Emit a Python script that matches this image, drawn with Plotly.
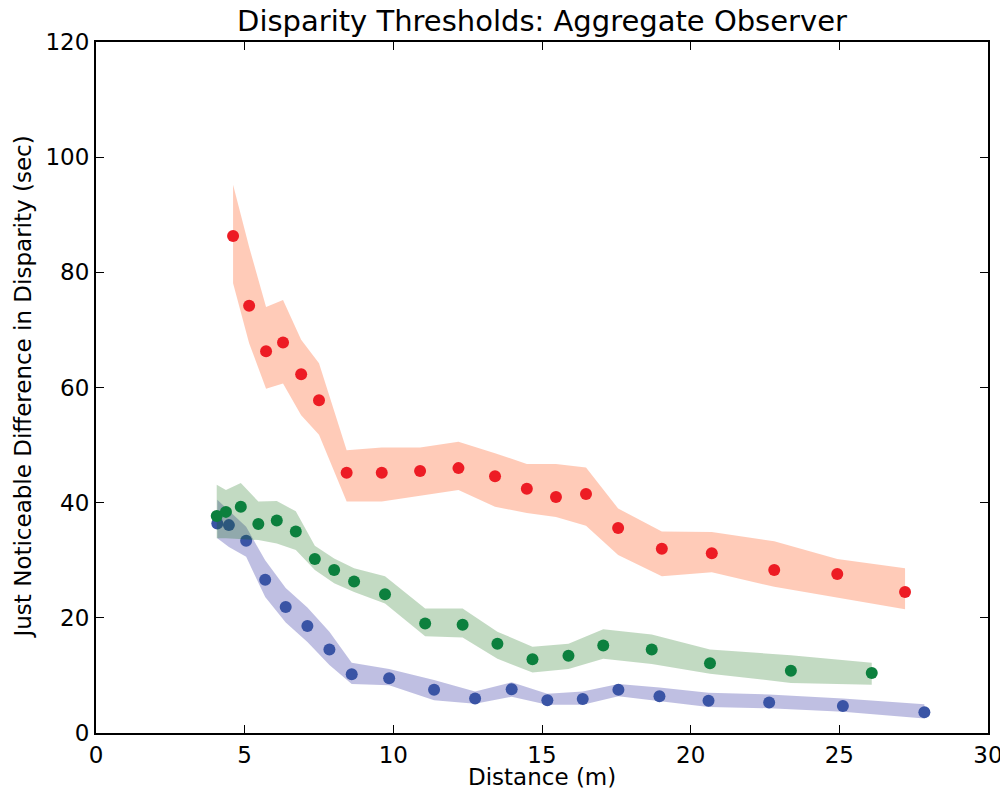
import plotly.graph_objects as go

# Blue series
blue_x = [4.08, 4.47, 5.05, 5.69, 6.38, 7.11, 7.85, 8.60, 9.86, 11.37, 12.75, 13.98, 15.18, 16.37, 17.57, 18.95, 20.60, 22.64, 25.12, 27.86]
blue_y = [36.4, 36.1, 33.4, 26.6, 21.9, 18.6, 14.5, 10.2, 9.5, 7.5, 6.0, 7.6, 5.7, 5.9, 7.5, 6.4, 5.6, 5.3, 4.7, 3.6]
blue_hi = [40.5, 38.6, 35.8, 30.0, 25.2, 21.8, 17.6, 12.2, 11.1, 9.2, 7.2, 8.8, 6.8, 7.2, 8.5, 7.9, 7.0, 6.7, 6.0, 5.0]
blue_lo = [33.8, 32.3, 30.6, 23.6, 19.2, 15.8, 11.8, 8.5, 8.3, 5.7, 5.1, 6.3, 4.9, 4.9, 6.4, 5.6, 4.5, 4.3, 3.7, 2.5]

# Green series
green_x = [4.06, 4.37, 4.87, 5.46, 6.08, 6.72, 7.36, 8.01, 8.68, 9.72, 11.07, 12.33, 13.50, 14.68, 15.89, 17.06, 18.69, 20.65, 23.37, 26.09]
green_y = [37.7, 38.4, 39.3, 36.3, 36.9, 35.0, 30.2, 28.3, 26.3, 24.1, 19.0, 18.8, 15.5, 12.8, 13.4, 15.2, 14.5, 12.1, 10.8, 10.4]
green_hi = [43.1, 42.2, 43.4, 40.2, 40.3, 38.5, 32.5, 30.3, 28.6, 27.2, 21.6, 21.6, 17.6, 15.0, 15.5, 18.0, 17.1, 14.5, 13.5, 12.2]
green_lo = [33.8, 33.8, 33.7, 33.5, 32.9, 31.8, 28.3, 26.0, 24.5, 22.5, 16.8, 16.6, 12.9, 10.5, 11.1, 12.9, 12.0, 10.3, 8.7, 8.4]

# Red series
red_x = [4.61, 5.15, 5.72, 6.29, 6.90, 7.50, 8.43, 9.61, 10.90, 12.19, 13.42, 14.49, 15.47, 16.48, 17.56, 19.03, 20.71, 22.81, 24.93, 27.21]
red_y = [86.3, 74.2, 66.3, 67.8, 62.3, 57.8, 45.2, 45.2, 45.5, 46.0, 44.6, 42.4, 41.0, 41.5, 35.6, 32.0, 31.2, 28.3, 27.6, 24.5]
red_hi = [95.2, 84.4, 74.0, 75.2, 68.3, 64.2, 49.1, 49.6, 49.6, 50.6, 48.6, 46.7, 46.7, 46.1, 39.0, 35.0, 34.9, 33.3, 30.2, 28.6]
red_lo = [78.1, 67.7, 59.8, 60.7, 55.2, 51.8, 40.2, 40.2, 41.2, 42.2, 39.3, 38.2, 37.5, 36.0, 30.9, 27.2, 27.9, 25.4, 23.5, 21.5]

x_ticks = [0, 5, 10, 15, 20, 25, 30]
y_ticks = [0, 20, 40, 60, 80, 100, 120]

series = [
    (blue_x, blue_y, blue_hi, blue_lo, "rgba(0,0,139,0.25)", "rgb(58,84,165)"),
    (green_x, green_y, green_hi, green_lo, "rgba(0,100,0,0.24)", "rgb(12,128,62)"),
    (red_x, red_y, red_hi, red_lo, "rgba(255,69,0,0.28)", "rgb(237,28,36)"),
]

fig = go.Figure()
for xs, ys, hi, lo, fillc, ptc in series:
    fig.add_trace(go.Scatter(
        x=list(xs) + list(xs)[::-1],
        y=list(hi) + list(lo)[::-1],
        fill="toself", fillcolor=fillc, mode="lines",
        line=dict(width=0, color=fillc), hoverinfo="skip", showlegend=False,
    ))
    fig.add_trace(go.Scatter(
        x=xs, y=ys, mode="markers",
        marker=dict(size=12, color=ptc, line=dict(width=0)),
        showlegend=False,
    ))

font = "DejaVu Sans, Arial, sans-serif"
axis_common = dict(
    showgrid=False, zeroline=False, showline=True, linecolor="black", linewidth=2,
    mirror="ticks", ticks="inside", ticklen=8, tickwidth=1, tickcolor="black",
    tickfont=dict(family=font, size=23, color="black"), automargin=False,
)

# page has an 8px body margin, so the figure is offset by (8, 8)
W, H = 1000, 788
L, R, T, B = 88, 20, 34, 63
PW, PH = W - L - R, H - T - B

fig.update_layout(
    width=W, height=H,
    margin=dict(l=L, r=R, t=T, b=B, autoexpand=False),
    paper_bgcolor="white", plot_bgcolor="white",
    title=dict(text="Disparity Thresholds: Aggregate Observer",
               font=dict(family=font, size=29, color="black"),
               x=0.5, xref="paper", xanchor="center",
               y=1 - 13 / H, yref="container", yanchor="middle"),
    xaxis=dict(range=[0, 30], tickvals=x_ticks, ticktext=[str(v) for v in x_ticks], **axis_common),
    yaxis=dict(range=[0, 120], tickvals=y_ticks, ticktext=[str(v) for v in y_ticks], **axis_common),
    annotations=[
        dict(text="Distance (m)", xref="paper", yref="paper", x=0.5,
             y=-(769 - (H - B)) / PH, xanchor="center", yanchor="middle",
             showarrow=False, font=dict(family=font, size=23, color="black")),
        dict(text="Just Noticeable Difference in Disparity (sec)", xref="paper", yref="paper",
             x=-(L - 14) / PW, y=0.5, xanchor="center", yanchor="middle", textangle=-90,
             showarrow=False, font=dict(family=font, size=23, color="black")),
    ],
)

fig.write_html("out.html")
